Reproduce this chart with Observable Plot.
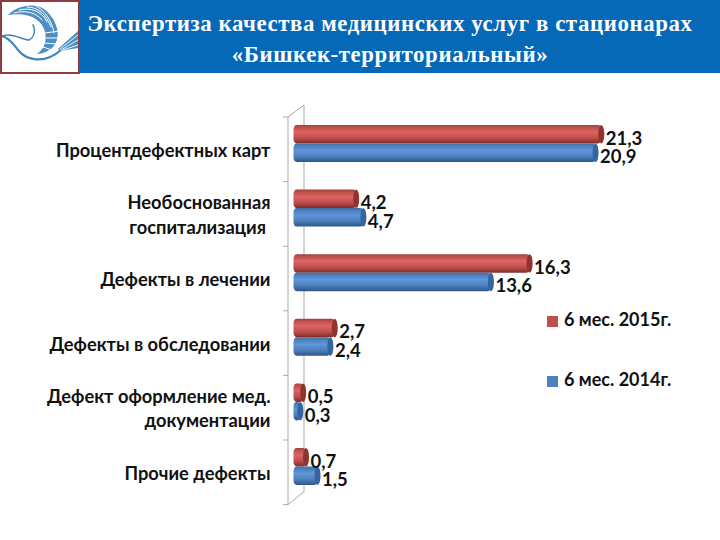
<!DOCTYPE html>
<html lang="ru">
<head>
<meta charset="utf-8">
<script src="https://cdn.jsdelivr.net/npm/d3@7"></script>
<script src="https://cdn.jsdelivr.net/npm/@observablehq/plot@0.6"></script>
<style>
html,body{margin:0;padding:0;background:#fff;width:720px;height:540px;overflow:hidden}
#page{position:relative;width:720px;height:540px}
#head{position:absolute;left:0;top:0;width:720px;height:73px;background:#0569b8}
#title{position:absolute;left:80px;top:8px;width:620px;text-align:center;color:#fff;
  font:bold 22.8px/31px "Liberation Serif",serif;letter-spacing:.6px}
#logo{position:absolute;left:0;top:0;width:80px;height:74px;background:#fff;box-sizing:border-box;border:2px solid #8f3d3f}
#chart{position:absolute;left:0;top:72px}
.lg{position:absolute;left:547px;font:bold 18px/20px Lato,"Noto Sans",sans-serif;color:#111;white-space:nowrap}
.lg i{display:inline-block;width:11px;height:11px;margin-right:6px;vertical-align:-0.5px}
</style>
</head>
<body>
<div id="page">
  <div id="head"></div>
  <div id="title">Экспертиза качества медицинских услуг в стационарах<br>«Бишкек-территориальный»</div>
  <div id="logo">
    <svg width="76" height="70" viewBox="2 2 76 70" fill="none" stroke-linecap="round">
      <path d="M8 15C16 6 34 2 44 9C56 18 63 36 53 47C49 51 43 54 37 54C44 49 47 42 45 32C42 20 30 12 8 15Z" fill="#4b8fc4"/>
      <path d="M14 13C24 10 36 12 42 20M19 10C30 7 42 11 47 22M27 7C38 7 46 14 51 27M36 6C44 10 52 20 54 33M45 33L59 31M46 38L58 38M45 43L56 44M43 47L52 50"
        stroke="#fff" stroke-width="1"/>
      <path d="M2 36C12 32 22 40 29 40C34 38 36 30 33 25" stroke="#3f86bd" stroke-width="1.5"/>
      <path d="M2 36C10 38 14 45 18 50C26 60 44 65 61 50" stroke="#3f86bd" stroke-width="2.2"/>
      <path d="M58 49L78 31L78 48L60 51Z" fill="#4b8fc4"/>
      <path d="M60 49L78 35M61 50L78 40M63 50L78 45" stroke="#fff" stroke-width=".9"/>
    </svg>
  </div>
  <div id="chart"></div>
  <div class="lg" style="top:309px"><i style="background:#c0504d"></i>6 мес. 2015г.</div>
  <div class="lg" style="top:369px"><i style="background:#4f81bd"></i>6 мес. 2014г.</div>
</div>
<script>
const categories = [
  "Процентдефектных карт",
  "Необоснованная\nгоспитализация\u00a0",
  "Дефекты в лечении",
  "Дефекты в обследовании",
  "Дефект оформление мед.\nдокументации",
  "Прочие дефекты"
];
const series = ["6 мес. 2015г.", "6 мес. 2014г."];
const values2015 = [21.3, 4.2, 16.3, 2.7, 0.5, 0.7];
const values2014 = [20.9, 4.7, 13.6, 2.4, 0.3, 1.5];

const rows = categories.flatMap((c, i) => [
  {category: c, series: series[0], value: values2015[i]},
  {category: c, series: series[1], value: values2014[i]}
]);
const font = 'Lato,"Noto Sans",sans-serif';
const commaFmt = d => String(d).replace(".", ",");

const common = {y: "series", fy: "category"};
const gradFill = d => d.series === series[0] ? "url(#gRed)" : "url(#gBlue)";
const capFill = d => d.series === series[0] ? "#8f3330" : "#34659f";

const chart = Plot.plot({
  width: 720,
  height: 468,
  marginLeft: 270,
  marginRight: 0,
  marginTop: 53,
  marginBottom: 55,
  style: {background: "transparent", overflow: "visible"},
  x: {domain: [0, 22], range: [296, 611.3], axis: null},
  y: {domain: series, padding: 0, axis: null, round: false},
  fy: {domain: categories, paddingInner: 0.427, paddingOuter: 0, round: false, label: null},
  color: {type: "identity"},
  marks: [
    Plot.axisFy({anchor: "left", tickSize: 0, tickPadding: 0, dy: 5, label: null, lineHeight: 1.33,
      fontFamily: font, fontWeight: 700, fontSize: 18.3, fill: "#111"}),
    Plot.barX(rows, {...common, x1: 0, x2: "value", fill: gradFill, insetLeft: -2.5, rx: 3, ry: 5}),
    Plot.barX(rows, {...common, x1: "value", x2: "value", fill: capFill, insetLeft: -3, insetRight: -3, rx: 3, ry: 9}),
    Plot.text(rows, {...common, x: "value", text: d => commaFmt(d.value), dx: 4, dy: 4,
      textAnchor: "start", fontFamily: font, fontWeight: 700, fontSize: 18.5, fill: "#111"})
  ]
});

// 3D wall and gradient decorations, placed from the chart's own scales
const root = d3.select(chart);
const fy = chart.scale("fy"), xs = chart.scale("x");
const grad = (id, stops) => {
  const g = root.append("defs").append("linearGradient").attr("id", id)
    .attr("x1", 0).attr("x2", 0).attr("y1", 0).attr("y2", 1);
  stops.forEach(([o, c]) => g.append("stop").attr("offset", o).attr("stop-color", c));
};
grad("gRed", [[0, "#a23e3b"], [.12, "#bd4e4b"], [.38, "#dc6561"], [.7, "#bf4f4c"], [1, "#7e2b29"]]);
grad("gBlue", [[0, "#3f70a9"], [.12, "#4c7db8"], [.38, "#5f97da"], [.7, "#4d7fbb"], [1, "#2b5689"]]);

const step = fy.step, top0 = fy.apply(categories[0]) - 8;
const front = xs.apply(0) - 8, back = xs.apply(0) + 8;
const wall = root.insert("g", ":first-child").attr("fill", "none").attr("stroke", "#a9a9a9").attr("stroke-width", 1);
const bottom = top0 + step * categories.length;
wall.append("path").attr("d",
  `M${back},${top0 - 12}L${front},${top0}V${bottom}L${back},${bottom - 13}V${top0 - 12}`);
d3.range(categories.length + 1).forEach(i =>
  wall.append("path").attr("d", `M${front - 5},${top0 + step * i}H${front}`));

document.getElementById("chart").append(chart);
</script>
</body>
</html>
